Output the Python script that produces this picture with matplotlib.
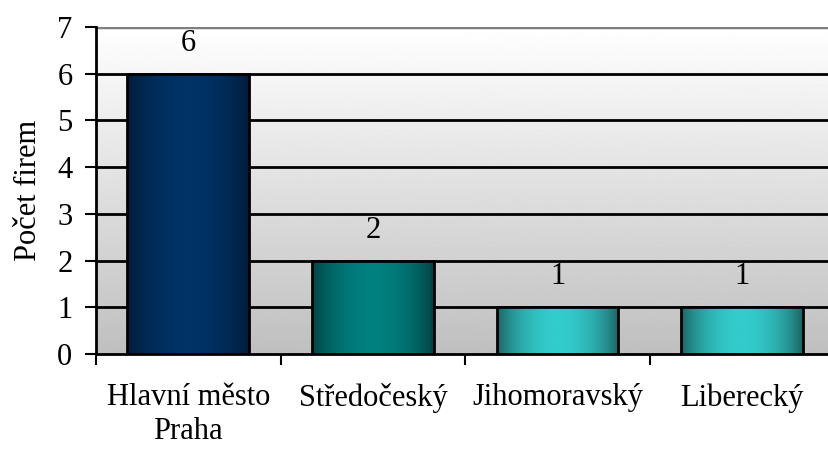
import numpy as np
import matplotlib
matplotlib.use("Agg")
import matplotlib.pyplot as plt
from matplotlib.colors import LinearSegmentedColormap

plt.rcParams['font.family'] = ['Liberation Serif', 'DejaVu Serif']
plt.rcParams['font.size'] = 22

regions = ['Hlavní město\nPraha', 'Středočeský', 'Jihomoravský', 'Liberecký']
counts = [6, 2, 1, 1]
# (edge colour, centre colour) of each bar's horizontal gradient
bar_shades = [('#001a38', '#003366'),
              ('#003e3e', '#008080'),
              ('#1a5c5c', '#33cccc'),
              ('#1a5c5c', '#33cccc')]

fig = plt.figure(figsize=(8.29, 4.5), dpi=100)
ax = fig.add_axes([96 / 829, 1 - 354 / 450, (834.5 - 96) / 829, (354 - 27) / 450])

x = np.arange(len(regions))

# background: white at top fading to grey at the bottom
bg = np.linspace(0.75, 1.0, 256).reshape(-1, 1)
ax.imshow(bg, cmap='gray', vmin=0, vmax=1, origin='lower', aspect='auto',
          extent=(0, 1, 0, 1), transform=ax.transAxes, zorder=0)

# grid lines
for yv in range(1, 7):
    ax.axhline(yv, color='black', lw=2, zorder=1)
ax.axhline(7, color='#808080', lw=2.5, zorder=1)

bars = ax.bar(x, counts, width=0.66, facecolor='none', edgecolor='black',
              linewidth=2, zorder=3)

prof = np.sin(np.linspace(0, np.pi, 256)) ** 0.7
for rect, (c_edge, c_mid) in zip(bars, bar_shades):
    cmap = LinearSegmentedColormap.from_list('b', [c_edge, c_mid])
    x0, y0 = rect.get_x(), rect.get_y()
    w, h = rect.get_width(), rect.get_height()
    im = ax.imshow(prof.reshape(1, -1), cmap=cmap, vmin=0, vmax=1, aspect='auto',
                   extent=(x0, x0 + w, y0, y0 + h), zorder=2)
    im.set_clip_path(rect)

for xi, v in zip(x, counts):
    ax.annotate(str(v), (xi, v), xytext=(0, 22), textcoords='offset points',
                ha='center', va='center')

ax.set_xlim(-0.5, len(regions) - 0.5)
ax.set_ylim(0, 7)

ax.set_yticks(range(0, 8))
ax.tick_params(axis='y', direction='out', length=8, width=1.5, pad=9)
ax.set_xticks(np.arange(-0.5, len(regions) - 0.5, 1.0))
ax.set_xticklabels([])
ax.set_xticks(x, minor=True)
ax.set_xticklabels(regions, minor=True, linespacing=1.2)
ax.tick_params(axis='x', which='major', direction='out', length=8, width=1.5)
ax.tick_params(axis='x', which='minor', length=0, pad=21)

ax.spines['top'].set_visible(False)
ax.spines['right'].set_visible(False)
ax.spines['left'].set_linewidth(2)
ax.spines['bottom'].set_linewidth(2)
ax.spines['left'].set_zorder(4)
ax.spines['bottom'].set_zorder(4)

ax.set_ylabel('Počet firem', labelpad=10)

fig.savefig('out.png', dpi=100)
